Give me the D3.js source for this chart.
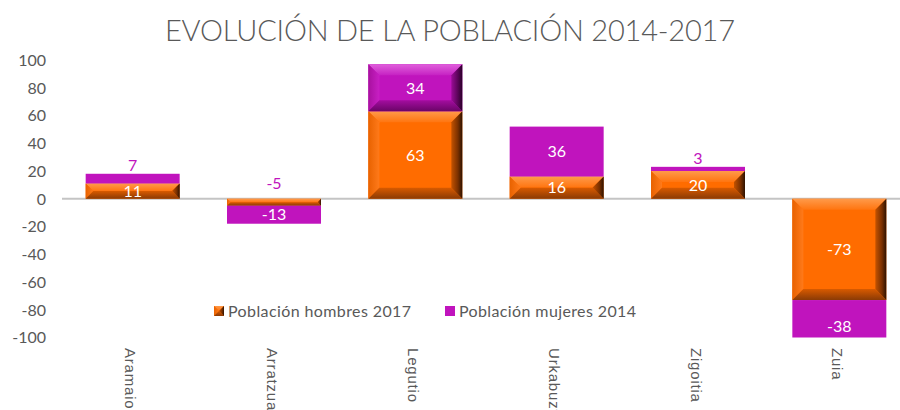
<!DOCTYPE html>
<html><head><meta charset="utf-8">
<script src="https://cdn.jsdelivr.net/npm/d3@7"></script>
<style>body{margin:0;background:#fff;overflow:hidden}svg{display:block}</style>
</head><body><svg id="c" width="900" height="410"></svg>
<script>
const categories = ["Aramaio","Arratzua","Legutio","Urkabuztaiz","Zigoitia","Zuia"];
const hombres2017 = [11, -5, 63, 16, 20, -73];
const mujeres2014 = [7, -13, 34, 36, 3, -38];
const yTicks = [100, 80, 60, 40, 20, 0, -20, -40, -60, -80, -100];
const seriesNames = ["Población hombres 2017", "Población mujeres 2014"];
const titleText = "EVOLUCIÓN DE LA POBLACIÓN 2014-2017";

const W = 900, H = 410;
const svg = d3.select("#c");
const defs = svg.append("defs");
const FONT = "Lato, 'Open Sans', sans-serif";
const GREY = "#595959";
const ORANGE = "#ff6c00", MAGENTA = "#c014bd";

const x = d3.scaleBand().domain(categories).range([62, 910]).paddingInner(0.335).paddingOuter(0.1675);
const y = d3.scaleLinear().domain([-100, 100]).range([337.5, 60]);

defs.append("clipPath").attr("id", "plotClip").append("rect")
  .attr("x", 0).attr("y", y(100)).attr("width", W).attr("height", y(-100) - y(100));

function grad(id, dir, stops) {
  const g = defs.append("linearGradient").attr("id", id);
  if (dir === "h") g.attr("x1",0).attr("y1",0).attr("x2",1).attr("y2",0);
  else g.attr("x1",0).attr("y1",0).attr("x2",0).attr("y2",1);
  stops.forEach(s => g.append("stop").attr("offset", s[0]).attr("stop-color", s[1]));
}
grad("oTop","v",[[0,"#ff9a4a"],[1,"#ff7510"]]);
grad("oLeft","h",[[0,"#e86200"],[1,"#ff7a1a"]]);
grad("oRight","h",[[0,"#c45200"],[0.6,"#7a3000"],[1,"#2e1200"]]);
grad("oBot","v",[[0,"#d85a00"],[1,"#8a3a05"]]);
grad("mTop","v",[[0,"#e060dc"],[1,"#c622c3"]]);
grad("mLeft","h",[[0,"#a8109f"],[1,"#c81fc4"]]);
grad("mRight","h",[[0,"#9a0c96"],[0.6,"#5a0458"],[1,"#2a0028"]]);
grad("mBot","v",[[0,"#a30d9f"],[1,"#6a0467"]]);

function bevelRect(g, x0, y0, w, h, base, pre) {
  const b = Math.min(11, h / 2, w / 2);
  g.append("rect").attr("x", x0).attr("y", y0).attr("width", w).attr("height", h).attr("fill", base);
  const P = pts => pts.map(p => p.join(",")).join(" ");
  const x1 = x0 + w, y1 = y0 + h;
  g.append("polygon").attr("points", P([[x0,y0],[x1,y0],[x1-b,y0+b],[x0+b,y0+b]])).attr("fill", `url(#${pre}Top)`);
  g.append("polygon").attr("points", P([[x0,y0],[x0+b,y0+b],[x0+b,y1-b],[x0,y1]])).attr("fill", `url(#${pre}Left)`);
  g.append("polygon").attr("points", P([[x0,y1],[x1,y1],[x1-b,y1-b],[x0+b,y1-b]])).attr("fill", `url(#${pre}Bot)`);
  g.append("polygon").attr("points", P([[x1,y0],[x1,y1],[x1-b,y1-b],[x1-b,y0+b]])).attr("fill", `url(#${pre}Right)`);
}

// stacking
const segs = [];
categories.forEach((c, i) => {
  let pos = 0, neg = 0;
  [hombres2017[i], mujeres2014[i]].forEach((v, s) => {
    let a, b;
    if (v >= 0) { a = pos; b = pos + v; pos = b; } else { a = neg; b = neg + v; neg = b; }
    segs.push({ c, s, v, a, b });
  });
});

// zero line
svg.append("line").attr("x1", 62).attr("x2", 900).attr("y1", y(0)).attr("y2", y(0))
  .attr("stroke", "#c4c4c4").attr("stroke-width", 2);

const plot = svg.append("g").attr("clip-path", "url(#plotClip)");
segs.forEach(d => {
  const x0 = x(d.c), w = x.bandwidth();
  const yt = y(Math.max(d.a, d.b)), yb = y(Math.min(d.a, d.b));
  const h = yb - yt;
  const g = plot.append("g");
  if (d.s === 0) bevelRect(g, x0, yt, w, h, ORANGE, "o");
  else if (d.c === "Legutio") bevelRect(g, x0, yt, w, h, MAGENTA, "m");
  else g.append("rect").attr("x", x0).attr("y", yt).attr("width", w).attr("height", h).attr("fill", MAGENTA);
});

// data labels
const labels = svg.append("g");
segs.forEach(d => {
  const cx = x(d.c) + x.bandwidth() / 2;
  const yt = y(Math.max(d.a, d.b)), yb = y(Math.min(d.a, d.b));
  const h = yb - yt;
  let ly, col;
  if (h >= 14) { ly = (yt + yb) / 2; col = "#ffffff"; }
  else {
    const group = segs.filter(e => e.c === d.c);
    const topVal = Math.max(0, ...group.map(e => Math.max(e.a, e.b)));
    ly = y(topVal) - (d.v < 0 ? 16 : 9);
    col = MAGENTA;
  }
  labels.append("text").attr("x", cx).attr("y", ly).attr("dy", "0.36em")
    .attr("text-anchor", "middle").attr("font-family", FONT).attr("font-size", 16)
    .attr("fill", col).text(d.v);
});

// y axis labels
svg.append("g").selectAll("text").data(yTicks).join("text")
  .attr("x", 46).attr("y", d => y(d)).attr("dy", "0.36em").attr("text-anchor", "end")
  .attr("font-family", FONT).attr("font-size", 16).attr("fill", GREY).text(d => d);

// x axis labels (rotated)
svg.append("g").selectAll("text").data(categories).join("text")
  .attr("transform", d => `translate(${x(d) + x.bandwidth() / 2 - 2},348) rotate(90)`)
  .attr("dy", "0.35em").attr("text-anchor", "start")
  .attr("font-family", "'Liberation Sans', Arial, sans-serif").attr("font-size", 15)
  .attr("letter-spacing", 0.8).attr("fill", GREY).text(d => d);

// title
svg.append("text").attr("x", 450).attr("y", 41).attr("text-anchor", "middle")
  .attr("font-family", FONT).attr("font-weight", 300).attr("font-size", 29).attr("fill", GREY)
  .attr("textLength", 570).attr("lengthAdjust", "spacing").text(titleText);

// legend
const leg = svg.append("g");
const lx = [214, 445];
seriesNames.forEach((n, i) => {
  const gg = leg.append("g");
  if (i === 0) bevelRect(gg, lx[i], 306, 10, 10, ORANGE, "o");
  else gg.append("rect").attr("x", lx[i]).attr("y", 306).attr("width", 10).attr("height", 10).attr("fill", MAGENTA);
  leg.append("text").attr("x", lx[i] + 14).attr("y", 311).attr("dy", "0.36em")
    .attr("font-family", FONT).attr("font-size", 16).attr("fill", GREY)
    .attr("textLength", i === 0 ? 183 : 177).attr("lengthAdjust", "spacing").text(n);
});
</script></body></html>
